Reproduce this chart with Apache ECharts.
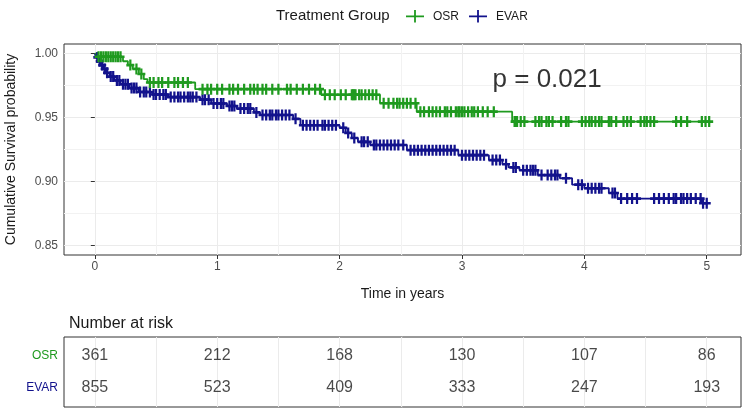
<!DOCTYPE html>
<html><head><meta charset="utf-8">
<script src="https://cdn.jsdelivr.net/npm/echarts@6/dist/echarts.min.js"></script>
<style>html,body{margin:0;padding:0;background:#fff}#c{width:746px;height:412px}</style>
</head><body><div id="c"></div>
<script>
// ---- data ----
const groups = ['OSR', 'EVAR'];
const osrTime = [0, 0.02, 0.23, 0.27, 0.31, 0.36, 0.40, 0.43, 0.82, 1.85, 2.33, 2.63, 3.41, 5.03];
const osrSurv = [1.0, 0.9975, 0.994, 0.991, 0.988, 0.984, 0.980, 0.9774, 0.9722, 0.9678, 0.9612, 0.9546, 0.9468, 0.9468];
const evarTime = [0, 0.01, 0.03, 0.05, 0.07, 0.09, 0.12, 0.16, 0.21, 0.28, 0.36, 0.47, 0.6, 0.86, 0.95, 1.08, 1.16, 1.3, 1.35, 1.62, 1.68, 2.0, 2.05, 2.1, 2.15, 2.25, 2.55, 2.97, 3.22, 3.33, 3.38, 3.47, 3.62, 3.8, 3.9, 4.0, 4.2, 4.27, 4.96, 5.02];
const evarSurv = [1.0, 0.997, 0.994, 0.991, 0.988, 0.985, 0.982, 0.979, 0.976, 0.973, 0.970, 0.968, 0.966, 0.964, 0.961, 0.959, 0.957, 0.954, 0.952, 0.949, 0.944, 0.942, 0.938, 0.934, 0.931, 0.9285, 0.9245, 0.9206, 0.9167, 0.9135, 0.911, 0.9088, 0.905, 0.9025, 0.8975, 0.8947, 0.891, 0.8866, 0.883, 0.883];
const osrCensor = [0.03,0.05,0.07,0.09,0.11,0.13,0.15,0.17,0.19,0.21,0.29,0.34,0.38,0.45,0.48,0.52,0.55,0.6,0.65,0.68,0.72,0.76,0.88,0.92,0.95,1.0,1.04,1.1,1.13,1.17,1.22,1.27,1.3,1.33,1.37,1.4,1.45,1.5,1.57,1.6,1.65,1.7,1.75,1.8,1.84,1.88,1.92,1.96,2.01,2.05,2.1,2.11,2.12,2.13,2.16,2.18,2.21,2.24,2.27,2.3,2.36,2.4,2.44,2.47,2.49,2.52,2.55,2.58,2.62,2.66,2.69,2.73,2.76,2.79,2.82,2.86,2.88,2.91,2.95,2.97,2.98,3.0,3.02,3.05,3.08,3.1,3.13,3.17,3.21,3.26,3.43,3.44,3.45,3.48,3.51,3.6,3.63,3.65,3.69,3.71,3.74,3.81,3.85,3.87,3.98,4.01,4.04,4.06,4.09,4.12,4.14,4.2,4.22,4.26,4.32,4.35,4.38,4.46,4.49,4.51,4.54,4.57,4.75,4.79,4.84,4.96,4.99,5.02];
const evarCensor = [0.02,0.04,0.06,0.08,0.1,0.13,0.15,0.18,0.2,0.23,0.25,0.27,0.3,0.32,0.34,0.37,0.4,0.42,0.45,0.48,0.5,0.53,0.56,0.58,0.62,0.65,0.68,0.7,0.73,0.76,0.78,0.8,0.83,0.88,0.9,0.93,0.97,1.0,1.03,1.05,1.1,1.12,1.14,1.19,1.22,1.25,1.27,1.32,1.37,1.4,1.43,1.45,1.48,1.5,1.53,1.56,1.59,1.64,1.7,1.73,1.76,1.79,1.82,1.86,1.88,1.91,1.94,1.97,2.03,2.07,2.12,2.18,2.2,2.23,2.28,2.3,2.33,2.36,2.39,2.42,2.45,2.48,2.52,2.58,2.61,2.64,2.67,2.7,2.73,2.76,2.79,2.82,2.85,2.88,2.91,2.94,3.0,3.03,3.06,3.09,3.12,3.15,3.18,3.25,3.28,3.31,3.36,3.42,3.44,3.5,3.53,3.56,3.58,3.6,3.65,3.7,3.73,3.76,3.78,3.85,3.95,3.98,4.03,4.06,4.09,4.12,4.14,4.23,4.25,4.3,4.35,4.39,4.43,4.57,4.61,4.65,4.69,4.73,4.75,4.79,4.81,4.84,4.87,4.91,4.95,4.97,5.0];
const riskTimes = [0, 1, 2, 3, 4, 5];
const osrRisk = [361, 212, 168, 130, 107, 86];
const evarRisk = [855, 523, 409, 333, 247, 193];
const xTicks = [0, 1, 2, 3, 4, 5];
const xMinor = [0.5, 1.5, 2.5, 3.5, 4.5];
const yTicks = [0.85, 0.90, 0.95, 1.00];
const yMinor = [0.875, 0.925, 0.975];
const pText = 'p = 0.021';
const pPos = [3.25, 0.9796];

// ---- styling ----
const GREEN = '#1f9a1f', BLUE = '#12128c';
const FONT = "'Liberation Sans', Arial, sans-serif";
const PLUS = 'path://M3.6,0 L6.4,0 L6.4,3.8 L10,3.8 L10,6.2 L6.4,6.2 L6.4,10 L3.6,10 L3.6,6.2 L0,6.2 L0,3.8 L3.6,3.8 Z';
const LEGICON = 'path://M0,9 L20,9 L20,11 L0,11 Z M9,3 L11,3 L11,17 L9,17 Z';

function survAt(times, surv, t) {
  let v = surv[0];
  for (let i = 0; i < times.length; i++) { if (times[i] <= t) v = surv[i]; }
  return v;
}
const osrLine = osrTime.map((t, i) => [t, osrSurv[i]]);
const evarLine = evarTime.map((t, i) => [t, evarSurv[i]]);
const osrMarks = osrCensor.map(t => [t, survAt(osrTime, osrSurv, t)]);
const evarMarks = evarCensor.map(t => [t, survAt(evarTime, evarSurv, t)]);
const allX = xTicks.concat(xMinor).sort((a, b) => a - b);

const chart = echarts.init(document.getElementById('c'), null, {renderer: 'canvas'});
const XMIN = -0.252, XMAX = 5.28, YMIN = 0.8425, YMAX = 1.0075;

chart.setOption({
  animation: false,
  backgroundColor: '#fff',
  textStyle: {fontFamily: FONT},
  title: [
    {text: 'Treatment Group', left: 271, top: 3, textStyle: {fontFamily: FONT, fontSize: 15, fontWeight: 'normal', color: '#1a1a1a'}},
    {text: 'Number at risk', left: 64, top: 311, textStyle: {fontFamily: FONT, fontSize: 16, fontWeight: 'normal', color: '#1a1a1a'}}
  ],
  legend: {
    left: 401, top: 5, itemWidth: 18, itemHeight: 13, itemGap: 10,
    textStyle: {fontFamily: FONT, fontSize: 12, color: '#1a1a1a', padding: [0, 0, 0, 4]},
    data: [{name: 'OSR', icon: LEGICON, itemStyle: {color: GREEN}}, {name: 'EVAR', icon: LEGICON, itemStyle: {color: BLUE}}]
  },
  grid: [
    {left: 64, right: 5, top: 44, bottom: 157, show: true, borderColor: '#333', borderWidth: 1, backgroundColor: 'transparent', outerBoundsMode: 'none', containLabel: false},
    {left: 64, right: 5, top: 337, height: 70, show: true, borderColor: '#333', borderWidth: 1, outerBoundsMode: 'none', containLabel: false}
  ],
  xAxis: [
    {gridIndex: 0, type: 'value', min: XMIN, max: XMAX,
     name: 'Time in years', nameLocation: 'middle', nameGap: 32,
     nameTextStyle: {fontFamily: FONT, fontSize: 14, color: '#1a1a1a'},
     axisLine: {show: false},
     axisTick: {show: true, customValues: xTicks, length: 4, lineStyle: {color: '#333'}},
     axisLabel: {customValues: xTicks, color: '#4d4d4d', fontSize: 12, margin: 6, fontFamily: FONT},
     splitLine: {show: true, lineStyle: {color: '#ebebeb', width: 1}}},
    {gridIndex: 0, type: 'value', min: XMIN, max: XMAX, show: true,
     axisLine: {show: false}, axisLabel: {show: false},
     axisTick: {show: false, customValues: xMinor},
     splitLine: {show: true, lineStyle: {color: '#f2f2f2', width: 1}}},
    {gridIndex: 1, type: 'value', min: XMIN, max: XMAX,
     axisLine: {show: false}, axisLabel: {show: false},
     axisTick: {show: false, customValues: allX},
     splitLine: {show: true, lineStyle: {color: '#ebebeb', width: 1}}}
  ],
  yAxis: [
    {gridIndex: 0, type: 'value', min: YMIN, max: YMAX,
     name: 'Cumulative Survival probability', nameLocation: 'middle', nameGap: 46, nameRotate: 90,
     nameTextStyle: {fontFamily: FONT, fontSize: 14, color: '#1a1a1a'},
     axisLine: {show: false},
     axisTick: {show: true, customValues: yTicks, length: 4, lineStyle: {color: '#333'}},
     axisLabel: {customValues: yTicks, color: '#4d4d4d', fontSize: 12, margin: 6, fontFamily: FONT,
                 formatter: v => v.toFixed(2)},
     splitLine: {show: true, lineStyle: {color: '#ebebeb', width: 1}}},
    {gridIndex: 0, type: 'value', min: YMIN, max: YMAX, show: true,
     axisLine: {show: false}, axisLabel: {show: false},
     axisTick: {show: false, customValues: yMinor},
     splitLine: {show: true, lineStyle: {color: '#f2f2f2', width: 1}}},
    {gridIndex: 1, type: 'value', min: 0.4, max: 2.6, inverse: true,
     axisLine: {show: false}, axisTick: {show: false, customValues: [1, 2]},
     axisLabel: {customValues: [1, 2], margin: 6, fontFamily: FONT, fontSize: 12,
       formatter: v => v === 1 ? '{o|' + groups[0] + '}' : '{e|' + groups[1] + '}',
       rich: {o: {color: GREEN, fontSize: 12, fontFamily: FONT}, e: {color: BLUE, fontSize: 12, fontFamily: FONT}}},
     splitLine: {show: false}}
  ],
  series: [
    {name: 'EVAR', type: 'line', step: 'end', xAxisIndex: 0, yAxisIndex: 0, data: evarLine,
     showSymbol: false, lineStyle: {color: BLUE, width: 1.8}, itemStyle: {color: BLUE}, z: 3},
    {name: 'OSR', type: 'line', step: 'end', xAxisIndex: 0, yAxisIndex: 0, data: osrLine,
     showSymbol: false, lineStyle: {color: GREEN, width: 1.8}, itemStyle: {color: GREEN}, z: 3},
    {name: 'EVAR', type: 'scatter', xAxisIndex: 0, yAxisIndex: 0, data: evarMarks,
     symbol: PLUS, symbolSize: [8, 11], itemStyle: {color: BLUE, opacity: 1}, z: 4},
    {name: 'OSR', type: 'scatter', xAxisIndex: 0, yAxisIndex: 0, data: osrMarks,
     symbol: PLUS, symbolSize: [8, 11], itemStyle: {color: GREEN, opacity: 1}, z: 4},
    {name: 'pvalue', type: 'scatter', xAxisIndex: 0, yAxisIndex: 0, data: [pPos], symbolSize: 0, silent: true,
     label: {show: true, position: 'right', distance: 0, formatter: pText, fontFamily: FONT, fontSize: 26, color: '#000'}, z: 5},
    {name: 'riskOSR', type: 'scatter', xAxisIndex: 2, yAxisIndex: 2, symbolSize: 0, silent: true,
     data: riskTimes.map((t, i) => [t, 1, osrRisk[i]]),
     label: {show: true, position: 'inside', formatter: p => String(p.value[2]), fontFamily: FONT, fontSize: 16, color: '#1a1a1a'}},
    {name: 'riskEVAR', type: 'scatter', xAxisIndex: 2, yAxisIndex: 2, symbolSize: 0, silent: true,
     data: riskTimes.map((t, i) => [t, 2, evarRisk[i]]),
     label: {show: true, position: 'inside', formatter: p => String(p.value[2]), fontFamily: FONT, fontSize: 16, color: '#1a1a1a'}}
  ]
});
</script></body></html>
